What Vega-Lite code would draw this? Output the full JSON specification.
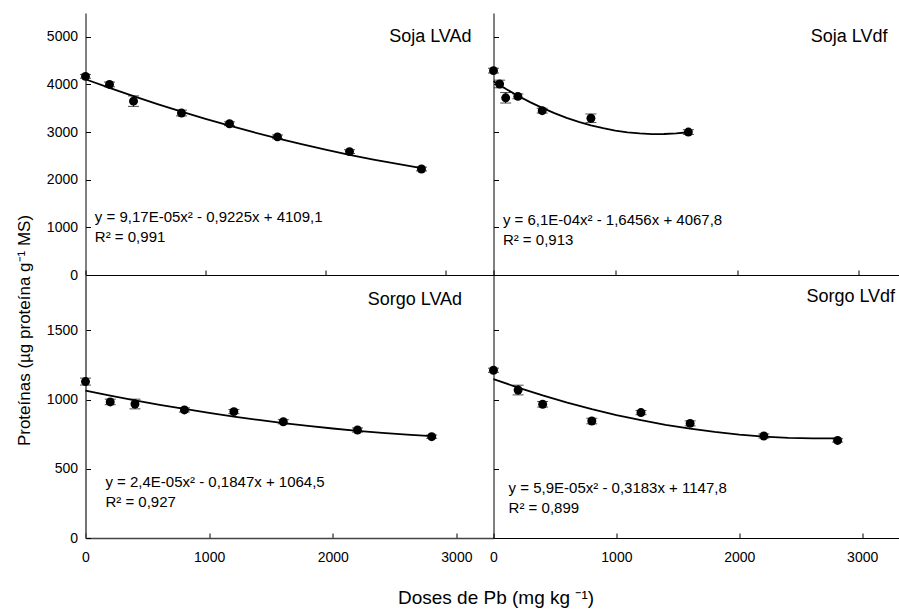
{
  "$schema": "https://vega.github.io/schema/vega-lite/v6.json",
  "padding": {"left": 14.5, "top": 13, "right": 0, "bottom": 5},
  "columns": 2,
  "spacing": 0,
  "bounds": "flush",
  "align": "each",
  "config": {
    "view": {"stroke": null},
    "font": "Liberation Sans",
    "text": {"font": "Liberation Sans", "color": "#000"},
    "axis": {"grid": false, "domainColor": "#000", "tickColor": "#000", "labelColor": "#000", "labelFont": "Liberation Sans", "labelFontSize": 14, "tickSize": -5, "domainWidth": 1, "tickWidth": 1, "titleColor": "#000", "titleFont": "Liberation Sans", "titleFontSize": 19, "titleFontWeight": "normal", "labelFlush": false, "labelOverlap": false},
    "axisX": {"labelPadding": 17},
    "axisY": {"labelPadding": 13}
  },
  "datasets": {
    "points": [
      {"panel": "Soja LVAd", "dose": 0, "prot": 4170, "lo": 4130, "hi": 4210},
      {"panel": "Soja LVAd", "dose": 200, "prot": 4000, "lo": 3950, "hi": 4050},
      {"panel": "Soja LVAd", "dose": 400, "prot": 3650, "lo": 3540, "hi": 3760},
      {"panel": "Soja LVAd", "dose": 800, "prot": 3400, "lo": 3340, "hi": 3460},
      {"panel": "Soja LVAd", "dose": 1200, "prot": 3175, "lo": 3135, "hi": 3215},
      {"panel": "Soja LVAd", "dose": 1600, "prot": 2900, "lo": 2860, "hi": 2940},
      {"panel": "Soja LVAd", "dose": 2200, "prot": 2590, "lo": 2550, "hi": 2630},
      {"panel": "Soja LVAd", "dose": 2800, "prot": 2225, "lo": 2185, "hi": 2265},
      {"panel": "Soja LVdf", "dose": 0, "prot": 4290, "lo": 4240, "hi": 4340},
      {"panel": "Soja LVdf", "dose": 50, "prot": 4010, "lo": 3930, "hi": 4090},
      {"panel": "Soja LVdf", "dose": 100, "prot": 3720, "lo": 3610, "hi": 3830},
      {"panel": "Soja LVdf", "dose": 200, "prot": 3750, "lo": 3700, "hi": 3800},
      {"panel": "Soja LVdf", "dose": 400, "prot": 3450, "lo": 3400, "hi": 3500},
      {"panel": "Soja LVdf", "dose": 800, "prot": 3290, "lo": 3200, "hi": 3380},
      {"panel": "Soja LVdf", "dose": 1600, "prot": 3000, "lo": 2950, "hi": 3050},
      {"panel": "Sorgo LVAd", "dose": 0, "prot": 1130, "lo": 1105, "hi": 1155},
      {"panel": "Sorgo LVAd", "dose": 200, "prot": 983, "lo": 963, "hi": 1003},
      {"panel": "Sorgo LVAd", "dose": 400, "prot": 968, "lo": 933, "hi": 1003},
      {"panel": "Sorgo LVAd", "dose": 800, "prot": 925, "lo": 910, "hi": 940},
      {"panel": "Sorgo LVAd", "dose": 1200, "prot": 913, "lo": 898, "hi": 928},
      {"panel": "Sorgo LVAd", "dose": 1600, "prot": 840, "lo": 825, "hi": 855},
      {"panel": "Sorgo LVAd", "dose": 2200, "prot": 780, "lo": 765, "hi": 795},
      {"panel": "Sorgo LVAd", "dose": 2800, "prot": 732, "lo": 720, "hi": 744},
      {"panel": "Sorgo LVdf", "dose": 0, "prot": 1212, "lo": 1197, "hi": 1227},
      {"panel": "Sorgo LVdf", "dose": 200, "prot": 1069, "lo": 1034, "hi": 1104},
      {"panel": "Sorgo LVdf", "dose": 400, "prot": 966, "lo": 946, "hi": 986},
      {"panel": "Sorgo LVdf", "dose": 800, "prot": 845, "lo": 825, "hi": 865},
      {"panel": "Sorgo LVdf", "dose": 1200, "prot": 906, "lo": 891, "hi": 921},
      {"panel": "Sorgo LVdf", "dose": 1600, "prot": 828, "lo": 810, "hi": 846},
      {"panel": "Sorgo LVdf", "dose": 2200, "prot": 737, "lo": 722, "hi": 752},
      {"panel": "Sorgo LVdf", "dose": 2800, "prot": 705, "lo": 693, "hi": 717}
    ],
    "curves": [
      {"panel": "Soja LVAd", "dose": 0, "fit": 4109.1},
      {"panel": "Soja LVAd", "dose": 200, "fit": 3928.3},
      {"panel": "Soja LVAd", "dose": 400, "fit": 3754.8},
      {"panel": "Soja LVAd", "dose": 600, "fit": 3588.6},
      {"panel": "Soja LVAd", "dose": 800, "fit": 3429.8},
      {"panel": "Soja LVAd", "dose": 1000, "fit": 3278.3},
      {"panel": "Soja LVAd", "dose": 1200, "fit": 3134.1},
      {"panel": "Soja LVAd", "dose": 1400, "fit": 2997.3},
      {"panel": "Soja LVAd", "dose": 1600, "fit": 2867.9},
      {"panel": "Soja LVAd", "dose": 1800, "fit": 2745.7},
      {"panel": "Soja LVAd", "dose": 2000, "fit": 2630.9},
      {"panel": "Soja LVAd", "dose": 2200, "fit": 2523.4},
      {"panel": "Soja LVAd", "dose": 2400, "fit": 2423.3},
      {"panel": "Soja LVAd", "dose": 2600, "fit": 2330.5},
      {"panel": "Soja LVAd", "dose": 2800, "fit": 2245.0},
      {"panel": "Soja LVdf", "dose": 0, "fit": 4067.8},
      {"panel": "Soja LVdf", "dose": 100, "fit": 3909.3},
      {"panel": "Soja LVdf", "dose": 200, "fit": 3763.1},
      {"panel": "Soja LVdf", "dose": 300, "fit": 3629.0},
      {"panel": "Soja LVdf", "dose": 400, "fit": 3507.2},
      {"panel": "Soja LVdf", "dose": 500, "fit": 3397.5},
      {"panel": "Soja LVdf", "dose": 600, "fit": 3300.0},
      {"panel": "Soja LVdf", "dose": 700, "fit": 3214.8},
      {"panel": "Soja LVdf", "dose": 800, "fit": 3141.7},
      {"panel": "Soja LVdf", "dose": 900, "fit": 3080.9},
      {"panel": "Soja LVdf", "dose": 1000, "fit": 3032.2},
      {"panel": "Soja LVdf", "dose": 1100, "fit": 2995.7},
      {"panel": "Soja LVdf", "dose": 1200, "fit": 2971.5},
      {"panel": "Soja LVdf", "dose": 1300, "fit": 2959.4},
      {"panel": "Soja LVdf", "dose": 1400, "fit": 2959.6},
      {"panel": "Soja LVdf", "dose": 1500, "fit": 2971.9},
      {"panel": "Soja LVdf", "dose": 1600, "fit": 2996.4},
      {"panel": "Sorgo LVAd", "dose": 0, "fit": 1064.5},
      {"panel": "Sorgo LVAd", "dose": 200, "fit": 1028.5},
      {"panel": "Sorgo LVAd", "dose": 400, "fit": 994.5},
      {"panel": "Sorgo LVAd", "dose": 600, "fit": 962.3},
      {"panel": "Sorgo LVAd", "dose": 800, "fit": 932.1},
      {"panel": "Sorgo LVAd", "dose": 1000, "fit": 903.8},
      {"panel": "Sorgo LVAd", "dose": 1200, "fit": 877.4},
      {"panel": "Sorgo LVAd", "dose": 1400, "fit": 853.0},
      {"panel": "Sorgo LVAd", "dose": 1600, "fit": 830.4},
      {"panel": "Sorgo LVAd", "dose": 1800, "fit": 809.8},
      {"panel": "Sorgo LVAd", "dose": 2000, "fit": 791.1},
      {"panel": "Sorgo LVAd", "dose": 2200, "fit": 774.3},
      {"panel": "Sorgo LVAd", "dose": 2400, "fit": 759.5},
      {"panel": "Sorgo LVAd", "dose": 2600, "fit": 746.5},
      {"panel": "Sorgo LVAd", "dose": 2800, "fit": 735.5},
      {"panel": "Sorgo LVdf", "dose": 0, "fit": 1147.8},
      {"panel": "Sorgo LVdf", "dose": 200, "fit": 1086.5},
      {"panel": "Sorgo LVdf", "dose": 400, "fit": 1029.9},
      {"panel": "Sorgo LVdf", "dose": 600, "fit": 978.1},
      {"panel": "Sorgo LVdf", "dose": 800, "fit": 930.9},
      {"panel": "Sorgo LVdf", "dose": 1000, "fit": 888.5},
      {"panel": "Sorgo LVdf", "dose": 1200, "fit": 850.8},
      {"panel": "Sorgo LVdf", "dose": 1400, "fit": 817.8},
      {"panel": "Sorgo LVdf", "dose": 1600, "fit": 789.6},
      {"panel": "Sorgo LVdf", "dose": 1800, "fit": 766.0},
      {"panel": "Sorgo LVdf", "dose": 2000, "fit": 747.2},
      {"panel": "Sorgo LVdf", "dose": 2200, "fit": 733.1},
      {"panel": "Sorgo LVdf", "dose": 2400, "fit": 723.7},
      {"panel": "Sorgo LVdf", "dose": 2600, "fit": 719.1},
      {"panel": "Sorgo LVdf", "dose": 2800, "fit": 719.1}
    ]
  },
  "concat": [
    {
      "width": 408, "height": 262,
      "layer": [
        {"data": {"name": "curves"}, "transform": [{"filter": "datum.panel === 'Soja LVAd'"}],
         "mark": {"type": "line", "color": "#000", "strokeWidth": 1.8},
         "encoding": {
           "x": {"field": "dose", "type": "quantitative", "title": null, "scale": {"domain": [0, 3400], "nice": false, "zero": false}, "axis": {"values": [0, 1000, 2000, 3000], "labels": false}},
           "y": {"field": "fit", "type": "quantitative", "title": null, "scale": {"domain": [0, 5500], "nice": false}, "axis": {"values": [0, 1000, 2000, 3000, 4000, 5000], "format": "d"}}}},
        {"data": {"name": "points"}, "transform": [{"filter": "datum.panel === 'Soja LVAd'"}],
         "mark": {"type": "errorbar", "color": "#000", "ticks": {"size": 11, "color": "#000"}},
         "encoding": {"x": {"field": "dose", "type": "quantitative", "title": null}, "y": {"field": "lo", "type": "quantitative", "title": null}, "y2": {"field": "hi"}}},
        {"data": {"name": "points"}, "transform": [{"filter": "datum.panel === 'Soja LVAd'"}],
         "mark": {"type": "point", "filled": true, "shape": "circle", "color": "#000", "opacity": 1, "size": 80},
         "encoding": {"x": {"field": "dose", "type": "quantitative", "title": null}, "y": {"field": "prot", "type": "quantitative", "title": null}}},
        {"data": {"values": [{}]}, "mark": {"type": "text", "text": "Soja LVAd", "align": "right", "baseline": "alphabetic", "fontSize": 18},
         "encoding": {"x": {"datum": 3217}, "y": {"datum": 4891}}},
        {"data": {"values": [{}]}, "mark": {"type": "text", "text": "y = 9,17E-05x² - 0,9225x + 4109,1", "align": "left", "baseline": "alphabetic", "fontSize": 15},
         "encoding": {"x": {"datum": 78}, "y": {"datum": 1119}}},
        {"data": {"values": [{}]}, "mark": {"type": "text", "text": "R² = 0,991", "align": "left", "baseline": "alphabetic", "fontSize": 15},
         "encoding": {"x": {"datum": 78}, "y": {"datum": 699}}}
      ]
    },
    {
      "width": 408, "height": 262,
      "layer": [
        {"data": {"name": "curves"}, "transform": [{"filter": "datum.panel === 'Soja LVdf'"}],
         "mark": {"type": "line", "color": "#000", "strokeWidth": 1.8},
         "encoding": {
           "x": {"field": "dose", "type": "quantitative", "title": null, "scale": {"domain": [0, 3350], "nice": false, "zero": false}, "axis": {"values": [0, 1000, 2000, 3000], "labels": false}},
           "y": {"field": "fit", "type": "quantitative", "title": null, "scale": {"domain": [0, 5500], "nice": false}, "axis": {"values": [1000, 2000, 3000, 4000, 5000], "labels": false}}}},
        {"data": {"name": "points"}, "transform": [{"filter": "datum.panel === 'Soja LVdf'"}],
         "mark": {"type": "errorbar", "color": "#000", "ticks": {"size": 11, "color": "#000"}},
         "encoding": {"x": {"field": "dose", "type": "quantitative", "title": null}, "y": {"field": "lo", "type": "quantitative", "title": null}, "y2": {"field": "hi"}}},
        {"data": {"name": "points"}, "transform": [{"filter": "datum.panel === 'Soja LVdf'"}],
         "mark": {"type": "point", "filled": true, "shape": "circle", "color": "#000", "opacity": 1, "size": 80},
         "encoding": {"x": {"field": "dose", "type": "quantitative", "title": null}, "y": {"field": "prot", "type": "quantitative", "title": null}}},
        {"data": {"values": [{}]}, "mark": {"type": "text", "text": "Soja LVdf", "align": "right", "baseline": "alphabetic", "fontSize": 18},
         "encoding": {"x": {"datum": 3235}, "y": {"datum": 4897}}},
        {"data": {"values": [{}]}, "mark": {"type": "text", "text": "y = 6,1E-04x² - 1,6456x + 4067,8", "align": "left", "baseline": "alphabetic", "fontSize": 15},
         "encoding": {"x": {"datum": 77}, "y": {"datum": 1050}}},
        {"data": {"values": [{}]}, "mark": {"type": "text", "text": "R² = 0,913", "align": "left", "baseline": "alphabetic", "fontSize": 15},
         "encoding": {"x": {"datum": 77}, "y": {"datum": 630}}}
      ]
    },
    {
      "width": 408, "height": 263,
      "layer": [
        {"data": {"name": "curves"}, "transform": [{"filter": "datum.panel === 'Sorgo LVAd'"}],
         "mark": {"type": "line", "color": "#000", "strokeWidth": 1.8},
         "encoding": {
           "x": {"field": "dose", "type": "quantitative", "title": null, "scale": {"domain": [0, 3300], "nice": false, "zero": false}, "axis": {"values": [0, 1000, 2000, 3000], "format": "d", "domainColor": "#444", "domainWidth": 1.5}},
           "y": {"field": "fit", "type": "quantitative", "title": "Proteínas (µg proteína g⁻¹ MS)", "scale": {"domain": [0, 1900], "nice": false}, "axis": {"values": [0, 500, 1000, 1500], "format": "d", "domainColor": "#444", "domainWidth": 1.5, "titleX": -61, "titleY": 55, "titleAlign": "center", "titleBaseline": "middle", "titleAngle": 270, "titleFontSize": 17}}}},
        {"data": {"name": "points"}, "transform": [{"filter": "datum.panel === 'Sorgo LVAd'"}],
         "mark": {"type": "errorbar", "color": "#000", "ticks": {"size": 11, "color": "#000"}},
         "encoding": {"x": {"field": "dose", "type": "quantitative", "title": null}, "y": {"field": "lo", "type": "quantitative", "title": "Proteínas (µg proteína g⁻¹ MS)"}, "y2": {"field": "hi"}}},
        {"data": {"name": "points"}, "transform": [{"filter": "datum.panel === 'Sorgo LVAd'"}],
         "mark": {"type": "point", "filled": true, "shape": "circle", "color": "#000", "opacity": 1, "size": 80},
         "encoding": {"x": {"field": "dose", "type": "quantitative", "title": null}, "y": {"field": "prot", "type": "quantitative", "title": "Proteínas (µg proteína g⁻¹ MS)"}}},
        {"data": {"values": [{}]}, "mark": {"type": "text", "text": "Sorgo LVAd", "align": "right", "baseline": "alphabetic", "fontSize": 18},
         "encoding": {"x": {"datum": 3046}, "y": {"datum": 1683}}},
        {"data": {"values": [{}]}, "mark": {"type": "text", "text": "y = 2,4E-05x² - 0,1847x + 1064,5", "align": "left", "baseline": "alphabetic", "fontSize": 15},
         "encoding": {"x": {"datum": 161}, "y": {"datum": 366}}},
        {"data": {"values": [{}]}, "mark": {"type": "text", "text": "R² = 0,927", "align": "left", "baseline": "alphabetic", "fontSize": 15},
         "encoding": {"x": {"datum": 161}, "y": {"datum": 222}}}
      ]
    },
    {
      "width": 408, "height": 263,
      "layer": [
        {"data": {"name": "curves"}, "transform": [{"filter": "datum.panel === 'Sorgo LVdf'"}],
         "mark": {"type": "line", "color": "#000", "strokeWidth": 1.8},
         "encoding": {
           "x": {"field": "dose", "type": "quantitative", "title": "Doses de Pb (mg kg ⁻¹)", "scale": {"domain": [0, 3320], "nice": false, "zero": false}, "axis": {"values": [0, 1000, 2000, 3000], "format": "d", "titleX": 2, "titleY": 65, "titleAlign": "center", "titleBaseline": "alphabetic"}},
           "y": {"field": "fit", "type": "quantitative", "title": null, "scale": {"domain": [0, 1900], "nice": false}, "axis": {"values": [500, 1000, 1500], "labels": false}}}},
        {"data": {"name": "points"}, "transform": [{"filter": "datum.panel === 'Sorgo LVdf'"}],
         "mark": {"type": "errorbar", "color": "#000", "ticks": {"size": 11, "color": "#000"}},
         "encoding": {"x": {"field": "dose", "type": "quantitative", "title": "Doses de Pb (mg kg ⁻¹)"}, "y": {"field": "lo", "type": "quantitative", "title": null}, "y2": {"field": "hi"}}},
        {"data": {"name": "points"}, "transform": [{"filter": "datum.panel === 'Sorgo LVdf'"}],
         "mark": {"type": "point", "filled": true, "shape": "circle", "color": "#000", "opacity": 1, "size": 80},
         "encoding": {"x": {"field": "dose", "type": "quantitative", "title": "Doses de Pb (mg kg ⁻¹)"}, "y": {"field": "prot", "type": "quantitative", "title": null}}},
        {"data": {"values": [{}]}, "mark": {"type": "text", "text": "Sorgo LVdf", "align": "right", "baseline": "alphabetic", "fontSize": 18},
         "encoding": {"x": {"datum": 3268}, "y": {"datum": 1707}}},
        {"data": {"values": [{}]}, "mark": {"type": "text", "text": "y = 5,9E-05x² - 0,3183x + 1147,8", "align": "left", "baseline": "alphabetic", "fontSize": 15},
         "encoding": {"x": {"datum": 123}, "y": {"datum": 323}}},
        {"data": {"values": [{}]}, "mark": {"type": "text", "text": "R² = 0,899", "align": "left", "baseline": "alphabetic", "fontSize": 15},
         "encoding": {"x": {"datum": 123}, "y": {"datum": 178}}}
      ]
    }
  ]
}
